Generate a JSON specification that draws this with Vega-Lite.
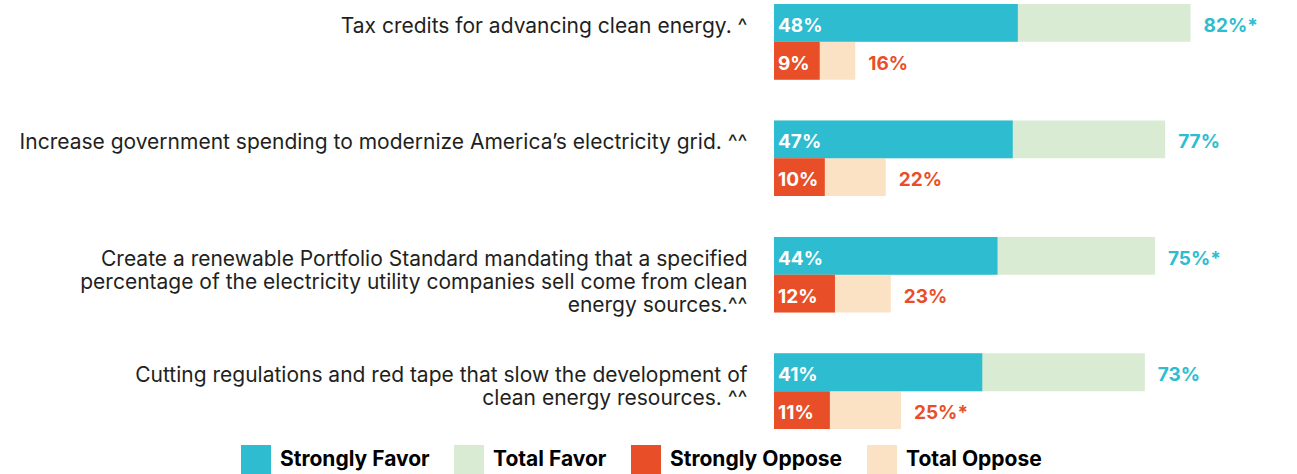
{
  "$schema": "https://vega.github.io/schema/vega-lite/v6.json",
  "width": 508,
  "height": 425,
  "padding": {"left": 19, "top": 4, "right": 0, "bottom": 0},
  "background": "white",
  "config": {
    "view": {"stroke": null},
    "font": "Inter",
    "style": {"guide-label": {"lineBreak": "|"}}
  },
  "data": {
    "values": [
      {"question": "Tax credits for advancing clean energy. ^", "side": "Favor", "measure": "Total Favor", "kind": "total", "value": 82, "label": "82%*"},
      {"question": "Tax credits for advancing clean energy. ^", "side": "Oppose", "measure": "Total Oppose", "kind": "total", "value": 16, "label": "16%"},
      {"question": "Increase government spending to modernize America’s electricity grid. ^^", "side": "Favor", "measure": "Total Favor", "kind": "total", "value": 77, "label": "77%"},
      {"question": "Increase government spending to modernize America’s electricity grid. ^^", "side": "Oppose", "measure": "Total Oppose", "kind": "total", "value": 22, "label": "22%"},
      {"question": "Create a renewable Portfolio Standard mandating that a specified|percentage of the electricity utility companies sell come from clean|energy sources.^^", "side": "Favor", "measure": "Total Favor", "kind": "total", "value": 75, "label": "75%*"},
      {"question": "Create a renewable Portfolio Standard mandating that a specified|percentage of the electricity utility companies sell come from clean|energy sources.^^", "side": "Oppose", "measure": "Total Oppose", "kind": "total", "value": 23, "label": "23%"},
      {"question": "Cutting regulations and red tape that slow the development of|clean energy resources. ^^", "side": "Favor", "measure": "Total Favor", "kind": "total", "value": 73, "label": "73%"},
      {"question": "Cutting regulations and red tape that slow the development of|clean energy resources. ^^", "side": "Oppose", "measure": "Total Oppose", "kind": "total", "value": 25, "label": "25%*"},
      {"question": "Tax credits for advancing clean energy. ^", "side": "Favor", "measure": "Strongly Favor", "kind": "strong", "value": 48, "label": "48%"},
      {"question": "Tax credits for advancing clean energy. ^", "side": "Oppose", "measure": "Strongly Oppose", "kind": "strong", "value": 9, "label": "9%"},
      {"question": "Increase government spending to modernize America’s electricity grid. ^^", "side": "Favor", "measure": "Strongly Favor", "kind": "strong", "value": 47, "label": "47%"},
      {"question": "Increase government spending to modernize America’s electricity grid. ^^", "side": "Oppose", "measure": "Strongly Oppose", "kind": "strong", "value": 10, "label": "10%"},
      {"question": "Create a renewable Portfolio Standard mandating that a specified|percentage of the electricity utility companies sell come from clean|energy sources.^^", "side": "Favor", "measure": "Strongly Favor", "kind": "strong", "value": 44, "label": "44%"},
      {"question": "Create a renewable Portfolio Standard mandating that a specified|percentage of the electricity utility companies sell come from clean|energy sources.^^", "side": "Oppose", "measure": "Strongly Oppose", "kind": "strong", "value": 12, "label": "12%"},
      {"question": "Cutting regulations and red tape that slow the development of|clean energy resources. ^^", "side": "Favor", "measure": "Strongly Favor", "kind": "strong", "value": 41, "label": "41%"},
      {"question": "Cutting regulations and red tape that slow the development of|clean energy resources. ^^", "side": "Oppose", "measure": "Strongly Oppose", "kind": "strong", "value": 11, "label": "11%"}
    ]
  },
  "encoding": {
    "y": {
      "field": "question",
      "type": "nominal",
      "sort": null,
      "scale": {"paddingInner": 0.35, "paddingOuter": 0},
      "axis": {
        "title": null,
        "domain": false,
        "ticks": false,
        "labelPadding": 27,
        "labelFontSize": 21,
        "labelColor": "#231F20",
        "labelLimit": 900,
        "labelBaseline": "top",
        "labelOffset": -26,
        "labelLineHeight": 23,
        "labelFont": "Inter"
      }
    },
    "yOffset": {"field": "side", "type": "nominal", "sort": ["Favor", "Oppose"], "scale": {"paddingInner": 0, "paddingOuter": 0}}
  },
  "layer": [
    {
      "mark": {"type": "bar"},
      "encoding": {
        "x": {"field": "value", "type": "quantitative", "stack": null, "scale": {"domain": [0, 94]}, "axis": null},
        "color": {
          "field": "measure",
          "type": "nominal",
          "scale": {
            "domain": ["Strongly Favor", "Total Favor", "Strongly Oppose", "Total Oppose"],
            "range": ["#2DBCD0", "#D9EBD3", "#E84F28", "#FCE2C5"]
          },
          "legend": {
            "title": null,
            "orient": "none",
            "direction": "horizontal",
            "legendX": -533,
            "legendY": 441,
            "symbolType": "square",
            "symbolSize": 900,
            "symbolStrokeWidth": 0,
            "symbolOpacity": 1,
            "labelFontSize": 21,
            "labelFontWeight": "bold",
            "labelColor": "#000000",
            "labelOffset": 9,
            "labelLimit": 300,
            "columnPadding": 24,
            "labelFont": "Inter"
          }
        }
      }
    },
    {
      "transform": [{"filter": "datum.kind == 'strong'"}],
      "mark": {"type": "text", "align": "left", "baseline": "middle", "dx": 4, "dy": 3, "fontSize": 19, "fontWeight": "bold", "color": "white", "font": "Inter"},
      "encoding": {
        "x": {"datum": 0, "type": "quantitative"},
        "text": {"field": "label"}
      }
    },
    {
      "transform": [{"filter": "datum.kind == 'total'"}],
      "mark": {"type": "text", "align": "left", "baseline": "middle", "dx": 13, "dy": 3, "fontSize": 19, "fontWeight": "bold", "font": "Inter"},
      "encoding": {
        "x": {"field": "value", "type": "quantitative"},
        "text": {"field": "label"},
        "color": {
          "field": "side",
          "type": "nominal",
          "scale": {"domain": ["Favor", "Oppose"], "range": ["#2DBCD0", "#E84F28"]},
          "legend": null
        }
      }
    }
  ],
  "resolve": {"scale": {"color": "independent"}}
}
